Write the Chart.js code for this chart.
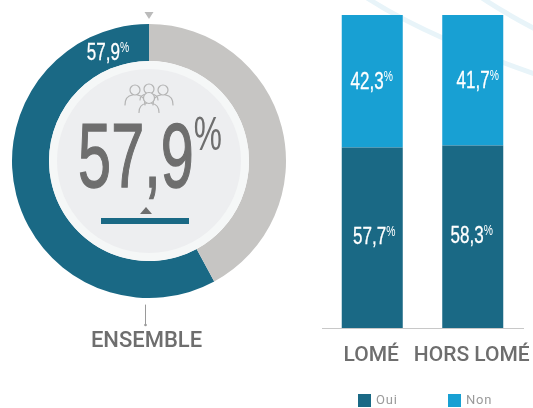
<!DOCTYPE html>
<html><head><meta charset="utf-8">
<script src="https://cdn.jsdelivr.net/npm/chart.js@4"></script>
<style>
html,body{margin:0;padding:0;background:#fff;width:533px;height:408px;overflow:hidden}
canvas{position:absolute}
#bg{position:absolute;left:0;top:0}
#wrapD{position:absolute;left:0;top:0;width:298px;height:408px}
#wrapB{position:absolute;left:316px;top:0;width:217px;height:408px}
</style></head><body>
<svg id="bg" width="533" height="408"><g fill="none" stroke="#E8F4F9" stroke-width="5"><path d="M367 -2C395 16 420 28 445 39S500 62 535 74"/><path d="M482 -2C500 10 518 20 535 29"/></g></svg>
<div id="wrapD"><canvas id="d"></canvas></div>
<div id="wrapB"><canvas id="b"></canvas></div>
<script>
const overallValues = [57.9, 42.1];
const categories = ['LOMÉ', 'HORS LOMÉ'];
const ouiValues = [57.7, 58.3];
const nonValues = [42.3, 41.7];
const seriesNames = ['Oui', 'Non'];
const centerTitle = 'ENSEMBLE';
const TEAL = '#1A6985', BLUE = '#18A0D3', GREY = '#C6C5C3', TXT = '#6E6E6E';
const NARROW = '"Liberation Sans Narrow","Liberation Sans",sans-serif';
const fmt = v => v.toFixed(1).replace('.', ',');

// number + raised small percent, in a condensed face
function pct(ctx, v, cx, cy, size, color, sx, pSize, pRaise, bold) {
  ctx.save();
  ctx.fillStyle = color;
  ctx.strokeStyle = color;
  ctx.textBaseline = 'alphabetic';
  ctx.textAlign = 'left';
  ctx.font = size + 'px ' + NARROW;
  const t = fmt(v), w = ctx.measureText(t).width * sx;
  ctx.font = pSize + 'px ' + NARROW;
  const pw = ctx.measureText('%').width * sx;
  const x0 = cx - (w + pw) / 2, base = cy + size * 0.345;
  ctx.translate(x0, base);
  ctx.scale(sx, 1);
  ctx.font = size + 'px ' + NARROW;
  ctx.fillText(t, 0, 0);
  if (bold) { ctx.lineWidth = bold; ctx.strokeText(t, 0, 0); }
  ctx.font = pSize + 'px ' + NARROW;
  ctx.fillText('%', w / sx, -pRaise);
  ctx.restore();
}
function tri(ctx, x, y, w, h, color) {
  ctx.fillStyle = color; ctx.beginPath();
  ctx.moveTo(x - w / 2, y); ctx.lineTo(x + w / 2, y); ctx.lineTo(x, y + h); ctx.closePath(); ctx.fill();
}
function person(ctx, x, y, r, bw, bh, fill) {
  ctx.beginPath(); ctx.arc(x, y, r, 0, Math.PI * 2);
  if (fill) { ctx.fillStyle = fill; ctx.fill(); }
  ctx.stroke();
  ctx.beginPath();
  ctx.moveTo(x - bw, y + r + bh);
  ctx.quadraticCurveTo(x - bw, y + r + 1, x - r * 0.5, y + r);
  ctx.moveTo(x + bw, y + r + bh);
  ctx.quadraticCurveTo(x + bw, y + r + 1, x + r * 0.5, y + r);
  ctx.stroke();
}
const centerPlugin = {
  id: 'center',
  afterDatasetsDraw(chart) {
    const ctx = chart.ctx, arc = chart.getDatasetMeta(0).data[0];
    const x = arc.x, y = arc.y, R = arc.innerRadius;
    ctx.save();
    ctx.fillStyle = '#F5F7F7'; ctx.beginPath(); ctx.arc(x, y, R, 0, 7); ctx.fill();
    ctx.fillStyle = '#EDEEF0'; ctx.beginPath(); ctx.arc(x, y, R - 8, 0, 7); ctx.fill();
    // label inside the teal arc
    pct(ctx, overallValues[0], x - 41, y - 108.5, 23, '#fff', 0.74, 14, 8, 0.3);
    // big number
    pct(ctx, overallValues[0], x + 1, y - 5, 90, TXT, 0.66, 48, 37, 1.4);
    // people icon
    ctx.strokeStyle = '#B4B4B4'; ctx.lineWidth = 1.2; ctx.lineCap = 'round';
    person(ctx, x - 14, y - 71, 5, 10, 10);
    person(ctx, x + 14, y - 71, 5, 10, 10);
    person(ctx, x, y - 72, 5, 9, 6);
    person(ctx, x, y - 63, 5.5, 10, 9, '#EDEEF0');
    // markers
    tri(ctx, x, y - 149, 9, 7, '#BBBBBB');
    tri(ctx, x - 3, y + 53, 12, -7, '#6E6E6E');
    ctx.fillStyle = TEAL; ctx.fillRect(x - 48, y + 57, 88, 6);
    ctx.strokeStyle = '#9A9A9A'; ctx.lineWidth = 1;
    ctx.beginPath(); ctx.moveTo(x - 3.5, y + 144); ctx.lineTo(x - 3.5, y + 164); ctx.stroke();
    ctx.fillStyle = '#9A9A9A'; ctx.beginPath(); ctx.arc(x - 3.5, y + 164, 1.3, 0, 7); ctx.fill();
    ctx.fillStyle = TXT; ctx.font = '500 22px Roboto'; ctx.textAlign = 'center'; ctx.textBaseline = 'alphabetic';
    ctx.fillText(centerTitle, x - 2.5, y + 186);
    ctx.restore();
  }
};
new Chart(document.getElementById('d'), {
  type: 'doughnut',
  data: { labels: seriesNames, datasets: [{ data: overallValues, backgroundColor: [TEAL, GREY], borderWidth: 0 }] },
  options: {
    responsive: true, maintainAspectRatio: false, animation: false,
    cutout: '73%', rotation: overallValues[1] * 3.6,
    layout: { padding: { left: 12, right: 12, top: 24, bottom: 110 } },
    plugins: { legend: { display: false }, tooltip: { enabled: false } }
  },
  plugins: [centerPlugin]
});
const labelShift = [[[2, -2], [-1, -2]], [[-0.5, 0], [5, 0]]];
const barLabels = {
  id: 'barLabels',
  afterDatasetsDraw(chart) {
    const ctx = chart.ctx;
    chart.data.datasets.forEach((ds, i) => {
      chart.getDatasetMeta(i).data.forEach((bar, j) => {
        const c = bar.getCenterPoint(), s = labelShift[i][j];
        pct(ctx, ds.data[j], c.x + s[0], c.y + s[1], 23, '#fff', 0.74, 14, 8, 0.3);
      });
    });
    // legend row
    const ly = 394, lx = [42, 132];
    ctx.save();
    ctx.textBaseline = 'middle'; ctx.textAlign = 'left';
    ctx.font = '13px Roboto'; ctx.letterSpacing = '0.8px';
    chart.data.datasets.forEach((ds, i) => {
      ctx.fillStyle = ds.backgroundColor;
      ctx.fillRect(lx[i], ly, 13, 13);
      ctx.fillStyle = '#9A9A9A';
      ctx.fillText(ds.label, lx[i] + 18, ly + 7);
    });
    ctx.restore();
  }
};
new Chart(document.getElementById('b'), {
  type: 'bar',
  data: { labels: categories, datasets: [
    { label: seriesNames[0], data: ouiValues, backgroundColor: TEAL },
    { label: seriesNames[1], data: nonValues, backgroundColor: BLUE }
  ] },
  options: {
    responsive: true, maintainAspectRatio: false, animation: false,
    layout: { padding: { left: 6, right: 10, top: 15, bottom: 40 } },
    categoryPercentage: 1, barPercentage: 0.607,
    scales: {
      x: { stacked: true, grid: { display: false, drawTicks: false },
           border: { color: '#C8C8C8', width: 1 },
           afterFit: s => { s.height = 40; s.paddingLeft = 0; s.paddingRight = 0; },
           ticks: { color: TXT, font: { family: 'Roboto', size: 21, weight: '500' }, padding: 15, labelOffset: -1, maxRotation: 0, autoSkip: false } },
      y: { stacked: true, display: false, min: 0, max: 100 }
    },
    plugins: { tooltip: { enabled: false }, legend: { display: false } }
  },
  plugins: [barLabels]
});
</script></body></html>
